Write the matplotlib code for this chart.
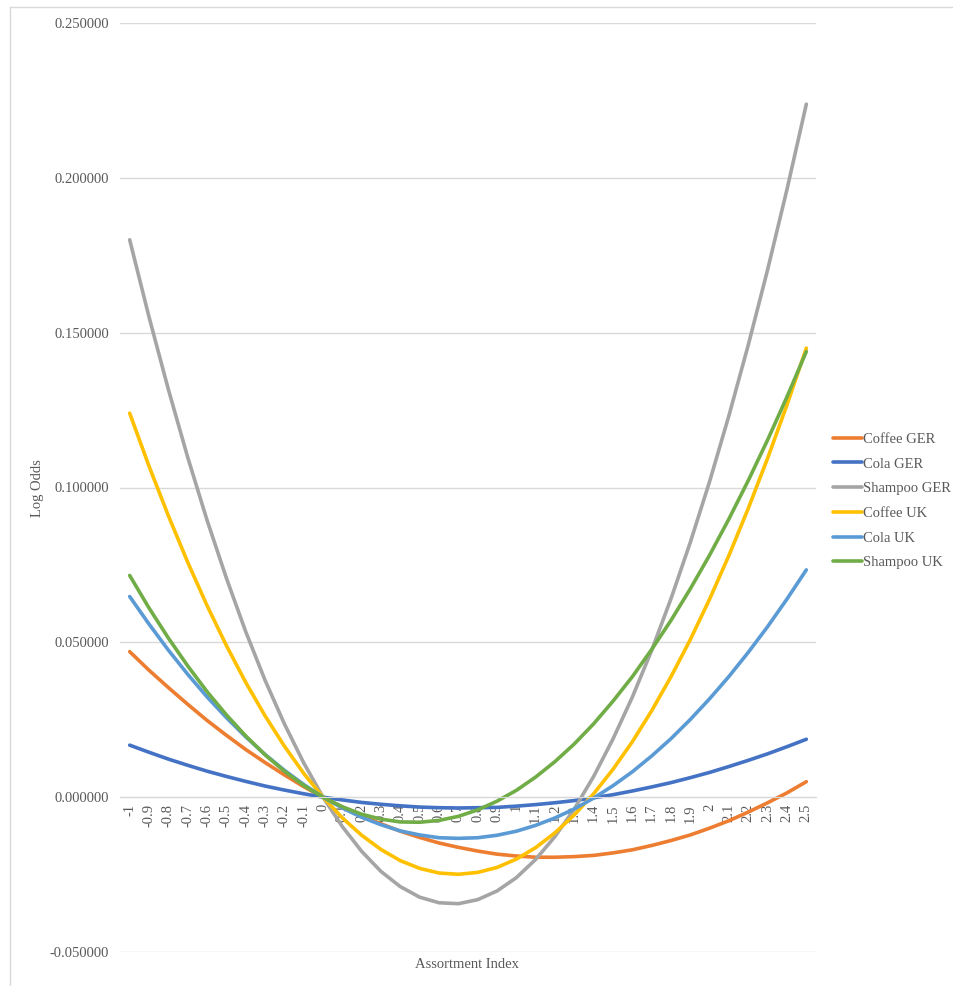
import matplotlib.pyplot as plt
from matplotlib.lines import Line2D

# assortment index categories
x_labels = ['-1', '-0.9', '-0.8', '-0.7', '-0.6', '-0.5', '-0.4', '-0.3', '-0.2', '-0.1',
            '0', '0.1', '0.2', '0.3', '0.4', '0.5', '0.6', '0.7', '0.8', '0.9',
            '1', '1.1', '1.2', '1.3', '1.4', '1.5', '1.6', '1.7', '1.8', '1.9',
            '2', '2.1', '2.2', '2.3', '2.4', '2.5']

coffee_ger = [0.0470, 0.0410, 0.0354, 0.0300, 0.0248, 0.0200, 0.0154, 0.0112, 0.0072, 0.0034,
              0.0, -0.0032, -0.0060, -0.0086, -0.0110, -0.0130, -0.0148, -0.0162, -0.0174, -0.0184,
              -0.0190, -0.0194, -0.0194, -0.0192, -0.0188, -0.0180, -0.0170, -0.0156, -0.0140, -0.0122,
              -0.0100, -0.0076, -0.0048, -0.0018, 0.0014, 0.0050]
cola_ger = [0.0168, 0.0145, 0.0123, 0.0103, 0.0084, 0.0067, 0.0051, 0.0036, 0.0023, 0.0011,
            0.0, -0.0009, -0.0017, -0.0023, -0.0028, -0.0032, -0.0034, -0.0035, -0.0034, -0.0033,
            -0.0029, -0.0024, -0.0018, -0.0011, -0.0002, 0.0008, 0.0020, 0.0033, 0.0047, 0.0063,
            0.0080, 0.0099, 0.0119, 0.0140, 0.0163, 0.0187]
shampoo_ger = [0.1800, 0.1551, 0.1317, 0.1098, 0.0895, 0.0708, 0.0535, 0.0378, 0.0237, 0.0111,
               0.0, -0.0095, -0.0175, -0.0240, -0.0289, -0.0323, -0.0341, -0.0344, -0.0331, -0.0303,
               -0.0260, -0.0201, -0.0127, -0.0038, 0.0067, 0.0188, 0.0323, 0.0474, 0.0641, 0.0823,
               0.1020, 0.1233, 0.1461, 0.1704, 0.1963, 0.2238]
coffee_uk = [0.1240, 0.1069, 0.0909, 0.0759, 0.0619, 0.0490, 0.0371, 0.0263, 0.0165, 0.0077,
             0.0, -0.0067, -0.0123, -0.0169, -0.0205, -0.0230, -0.0245, -0.0249, -0.0243, -0.0227,
             -0.0200, -0.0163, -0.0115, -0.0057, 0.0011, 0.0090, 0.0179, 0.0279, 0.0389, 0.0509,
             0.0640, 0.0781, 0.0933, 0.1095, 0.1267, 0.1450]
cola_uk = [0.0648, 0.0559, 0.0475, 0.0397, 0.0324, 0.0257, 0.0195, 0.0138, 0.0087, 0.0041,
           0.0, -0.0035, -0.0065, -0.0089, -0.0109, -0.0122, -0.0131, -0.0133, -0.0131, -0.0123,
           -0.0110, -0.0091, -0.0067, -0.0038, -0.0003, 0.0037, 0.0082, 0.0133, 0.0189, 0.0251,
           0.0318, 0.0390, 0.0468, 0.0551, 0.0640, 0.0734]
shampoo_uk = [0.0716, 0.0611, 0.0514, 0.0424, 0.0341, 0.0266, 0.0198, 0.0137, 0.0084, 0.0038,
              0.0, -0.0031, -0.0055, -0.0071, -0.0080, -0.0081, -0.0075, -0.0062, -0.0041, -0.0013,
              0.0022, 0.0065, 0.0115, 0.0172, 0.0237, 0.0310, 0.0389, 0.0477, 0.0571, 0.0673,
              0.0782, 0.0899, 0.1023, 0.1154, 0.1293, 0.1439]

series = [('Coffee GER', coffee_ger, '#ED7D31'),
          ('Cola GER', cola_ger, '#4472C4'),
          ('Shampoo GER', shampoo_ger, '#A5A5A5'),
          ('Coffee UK', coffee_uk, '#FFC000'),
          ('Cola UK', cola_uk, '#5B9BD5'),
          ('Shampoo UK', shampoo_uk, '#70AD47')]

plt.rcParams['font.family'] = ['Liberation Serif', 'DejaVu Serif']
text_color = '#595959'

fig = plt.figure(figsize=(9.54, 9.86), dpi=100)
ax = fig.add_axes([120 / 954, 1 - 952 / 986, 696 / 954, 929 / 986])

xs = list(range(len(x_labels)))
for name, vals, color in series:
    ax.plot(xs, vals, color=color, lw=2.6, label=name, solid_capstyle='round')

ax.set_xlim(-0.5, len(x_labels) - 0.5)
ax.set_ylim(-0.05, 0.25)
ax.set_yticks([-0.05, 0, 0.05, 0.1, 0.15, 0.2, 0.25])
ax.yaxis.set_major_formatter(lambda v, p: f'{v:.6f}')
ax.grid(axis='y', color='#d9d9d9', lw=1)
ax.set_axisbelow(True)

for s in ['top', 'right', 'left']:
    ax.spines[s].set_visible(False)
ax.spines['bottom'].set_position(('data', 0))
ax.spines['bottom'].set_color('#d9d9d9')

ax.set_xticks(xs)
ax.set_xticklabels(x_labels, rotation=90, va='top', ha='center')
ax.tick_params(axis='x', length=0, pad=5, labelsize=10.5, labelcolor=text_color)
ax.tick_params(axis='y', length=0, pad=8, labelsize=10.5, labelcolor=text_color)

fig.text(467 / 954, 1 - 964 / 986, 'Assortment Index', ha='center', va='center',
         fontsize=10.5, color=text_color)
fig.text(38 / 954, 1 - 488 / 986, 'Log Odds', ha='center', va='center', rotation=90,
         fontsize=10.5, color=text_color)

fig.legend(loc='center left', bbox_to_anchor=(833 / 954, 1 - 501 / 986), frameon=False,
           fontsize=10.5, labelcolor=text_color, handlelength=2.0, handletextpad=0.05,
           labelspacing=0.79, borderpad=0, borderaxespad=0)

# chart area border, left and top edges only
fig.add_artist(Line2D([10 / 954, 10 / 954], [0, 1 - 7 / 986], transform=fig.transFigure,
                      color='#d9d9d9', lw=1))
fig.add_artist(Line2D([10 / 954, 1], [1 - 7 / 986, 1 - 7 / 986], transform=fig.transFigure,
                      color='#d9d9d9', lw=1))

fig.savefig('out.png', dpi=100, facecolor='white')
